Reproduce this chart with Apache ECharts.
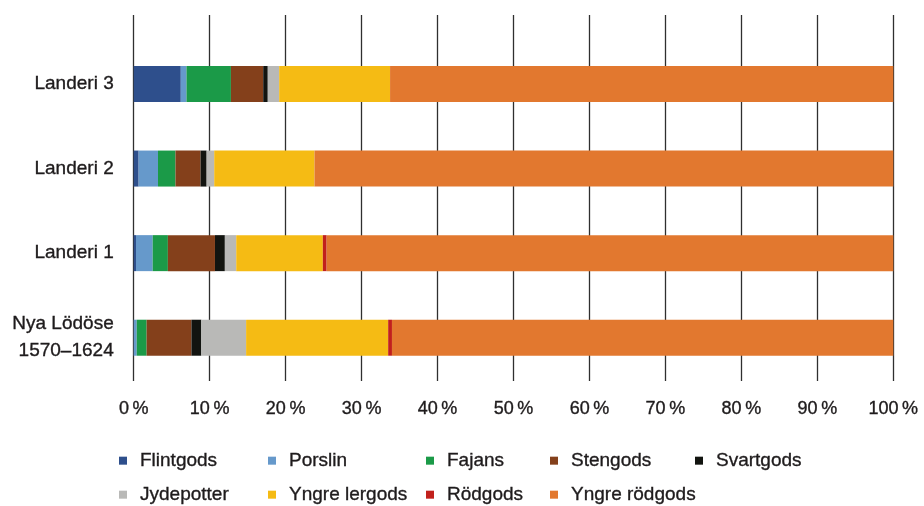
<!DOCTYPE html>
<html>
<head>
<meta charset="utf-8">
<script src="https://cdn.jsdelivr.net/npm/echarts@6/dist/echarts.min.js"></script>
<style>
html,body{margin:0;padding:0;background:#fff;}
#c{width:924px;height:506px;}
</style>
</head>
<body>
<div id="c"></div>
<script>
// Categories (bottom to top)
const categories = ['Nya Lödöse\n1570–1624', 'Landeri 1', 'Landeri 2', 'Landeri 3'];
const seriesNames = ['Flintgods', 'Porslin', 'Fajans', 'Stengods', 'Svartgods', 'Jydepotter', 'Yngre lergods', 'Rödgods', 'Yngre rödgods'];
const seriesColors = ['#2e4f8c', '#6699cb', '#1b9a48', '#84401b', '#121410', '#b9b9b7', '#f5bb14', '#c1201c', '#e2782f'];

// Percent values per category (Nya Lödöse, Landeri 1, Landeri 2, Landeri 3)
const flintgods    = [0,    0.3,  0.65, 6.2];
const porslin      = [0.4,  2.2,  2.55, 0.75];
const fajans       = [1.3,  2.0,  2.3,  5.85];
const stengods     = [5.9,  6.2,  3.3,  4.25];
const svartgods    = [1.3,  1.3,  0.8,  0.6];
const jydepotter   = [5.9,  1.5,  1.0,  1.5];
const yngreLergods = [18.7, 11.4, 13.2, 14.6];
const rodgods      = [0.5,  0.5,  0,    0];
const yngreRodgods = [66.0, 74.6, 76.2, 66.25];
const seriesValues = [flintgods, porslin, fajans, stengods, svartgods, jydepotter, yngreLergods, rodgods, yngreRodgods];

const xTicks = [0, 10, 20, 30, 40, 50, 60, 70, 80, 90, 100];

const FONT = "'Liberation Sans', Arial, sans-serif";
const TXT = '#1e1b1c';
const BOLDISH = {textBorderColor: TXT, textBorderWidth: 0.35};

// legend placement [iconLeft, top]
const legendPos = [
  [119, 451], [268, 451], [426, 451], [550, 451], [695, 451],
  [119, 485], [268, 485], [426, 485], [550, 485]
];

const chart = echarts.init(document.getElementById('c'));
const option = {
  animation: false,
  backgroundColor: '#fff',
  grid: [
    {left: 133.7, right: 30.7, top: 15, bottom: 125},
    {left: 133.7, right: 30.7, top: 41.7, bottom: 126}
  ],
  xAxis: [
    {
      gridIndex: 0, type: 'value', min: xTicks[0], max: xTicks[xTicks.length - 1], interval: 10,
      axisLine: {show: false}, axisTick: {show: false},
      splitLine: {show: true, lineStyle: {color: '#2f2f2f', width: 1.3}},
      axisLabel: Object.assign({margin: 19, fontFamily: FONT, fontSize: 18, color: TXT,
        formatter: v => v + '\u2009%'}, BOLDISH)
    },
    {gridIndex: 1, type: 'value', min: 0, max: 100, show: false}
  ],
  yAxis: [
    {gridIndex: 0, type: 'value', show: false, min: 0, max: 1},
    {
      gridIndex: 1, type: 'category', data: categories,
      axisLine: {show: false}, axisTick: {show: false}, splitLine: {show: false},
      axisLabel: Object.assign({margin: 20, fontFamily: FONT, fontSize: 19, color: TXT, lineHeight: 27, align: 'right'}, BOLDISH)
    }
  ],
  legend: seriesNames.map((n, i) => ({
    data: [n],
    left: legendPos[i][0], top: legendPos[i][1],
    padding: 0, itemGap: 0,
    itemWidth: 8, itemHeight: 8, icon: 'rect',
    selectedMode: false,
    textStyle: Object.assign({fontFamily: FONT, fontSize: 19, color: TXT, padding: [0, 0, 0, 8]}, BOLDISH)
  })),
  series: seriesNames.map((n, i) => ({
    name: n, type: 'bar', stack: 'total',
    xAxisIndex: 1, yAxisIndex: 1,
    barWidth: 36,
    itemStyle: {color: seriesColors[i]},
    data: seriesValues[i]
  }))
};
chart.setOption(option);
</script>
</body>
</html>
